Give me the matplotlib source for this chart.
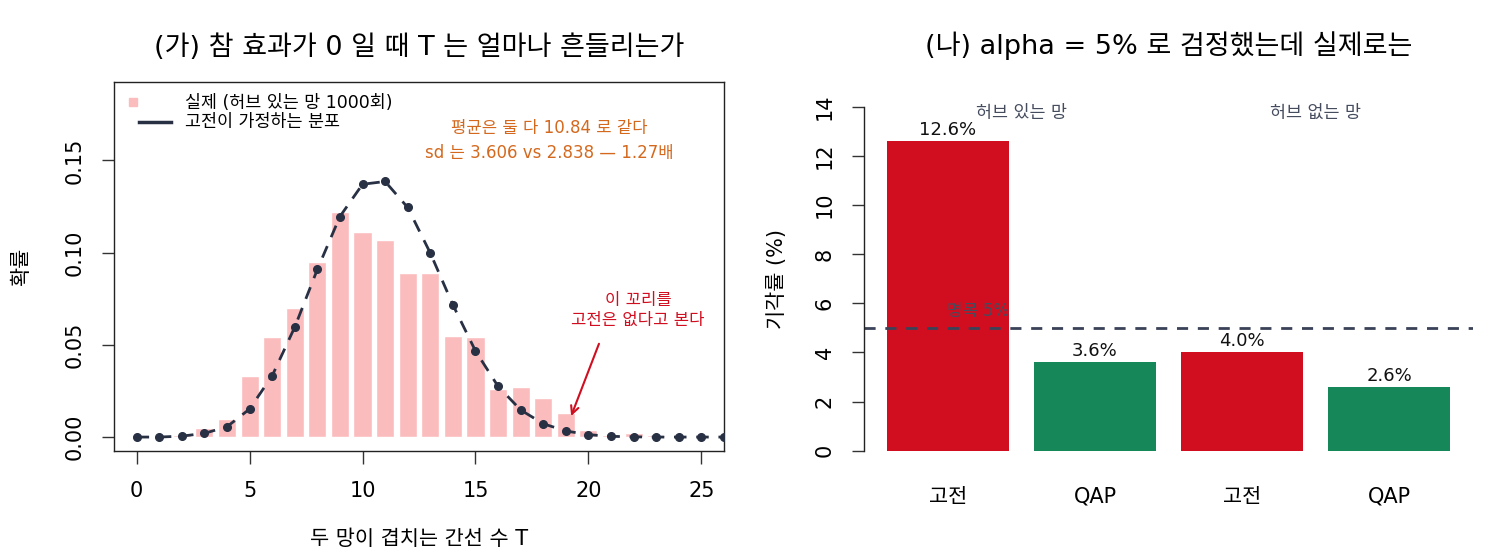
import matplotlib
matplotlib.use("Agg")
import matplotlib.pyplot as plt
from matplotlib.lines import Line2D
import numpy as np

plt.rcParams['font.family'] = ['DejaVu Sans', 'Noto Sans CJK KR']

# ---------------- data ----------------
t_values = list(range(0, 27))
observed_prob = [0.000, 0.000, 0.001, 0.005, 0.010, 0.033, 0.054, 0.070, 0.095, 0.122,
                 0.111, 0.107, 0.089, 0.089, 0.055, 0.054, 0.026, 0.027, 0.021, 0.013,
                 0.004, 0.001, 0.002, 0.001, 0.000, 0.000, 0.000]
classical_prob = [0.0000, 0.0000, 0.0005, 0.0020, 0.0056, 0.0152, 0.0332, 0.0596, 0.0909, 0.1196,
                  0.1371, 0.1386, 0.1245, 0.0998, 0.0717, 0.0467, 0.0275, 0.0147, 0.0072, 0.0033,
                  0.0013, 0.0004, 0.0001, 0.0000, 0.0000, 0.0000, 0.0000]
x_ticks = [0, 5, 10, 15, 20, 25]
y_ticks = [0.00, 0.05, 0.10, 0.15]
y_tick_labels = ["0.00", "0.05", "0.10", "0.15"]
legend_labels = ["실제 (허브 있는 망 1000회)", "고전이 가정하는 분포"]

bar_labels = ["고전", "QAP", "고전", "QAP"]
reject_rate = [12.6, 3.6, 4.0, 2.6]
group_labels = ["허브 있는 망", "허브 없는 망"]
nominal = 5
r_ticks = [0, 2, 4, 6, 8, 10, 12, 14]

PINK = "#FBBCBE"
NAVY = "#283044"
RED = "#D00E20"
GREEN = "#168758"
ORANGE = "#D4691E"
SLATE = "#454C5E"

fig = plt.figure(figsize=(15, 5.6), dpi=100)

# ---------------- left panel ----------------
ax = fig.add_axes([114/1500, (560-450.7)/560, 610/1500, 368.4/560])
ax.bar(t_values, observed_prob, width=0.8, color=PINK, edgecolor="white", linewidth=1.0, zorder=1)
ax.plot(t_values, classical_prob, color=NAVY, lw=2.0, linestyle=(0, (4.5, 3.5)), zorder=2)
ax.plot(t_values, classical_prob, 'o', color=NAVY, markersize=5.5, zorder=3)
ax.set_xlim(-1, 26)
ax.set_ylim(-0.0074, 0.1924)
ax.set_xticks(x_ticks)
ax.set_xticklabels([str(v) for v in x_ticks])
ax.set_yticks(y_ticks)
ax.set_yticklabels(y_tick_labels, rotation=90, va='center')
ax.tick_params(axis='both', direction='out', length=9, width=1.0, labelsize=15, color="#333333")
ax.tick_params(axis='y', pad=12)
ax.tick_params(axis='x', pad=13)
for s in ax.spines.values():
    s.set_linewidth(1.0)
    s.set_color("#222222")
ax.set_title("(가) 참 효과가 0 일 때 T 는 얼마나 흔들리는가", fontsize=19.5, pad=20)
ax.set_xlabel("두 망이 겹치는 간선 수 T", fontsize=15, labelpad=20)
ax.set_ylabel("확률", fontsize=15, labelpad=24)

# legend drawn like R's legend(): fill box at left, line after it
ax.plot([0.0311], [0.9465], marker='s', linestyle='None', color=PINK, markersize=6,
        transform=ax.transAxes, clip_on=False)
ax.plot([0.041, 0.0934], [0.8922, 0.8922], color=NAVY, lw=2.5, transform=ax.transAxes)
ax.text(0.1164, 0.9438, legend_labels[0], transform=ax.transAxes, fontsize=12.5, va='center', ha='left')
ax.text(0.1164, 0.8922, legend_labels[1], transform=ax.transAxes, fontsize=12.5, va='center', ha='left')

ax.text(18.25, 0.1674, "평균은 둘 다 10.84 로 같다", color=ORANGE, fontsize=12, ha='center', va='center')
ax.text(18.25, 0.1543, "sd 는 3.606 vs 2.838 — 1.27배", color=ORANGE, fontsize=12, ha='center', va='center')
ax.text(22.2, 0.0742, "이 꼬리를", color=RED, fontsize=12, ha='center', va='center')
ax.text(22.2, 0.0634, "고전은 없다고 본다", color=RED, fontsize=12, ha='center', va='center')
ax.annotate("", xy=(19.19, 0.0100), xytext=(20.51, 0.0520),
            arrowprops=dict(arrowstyle='->', color=RED, lw=1.5, mutation_scale=14))

# ---------------- right panel ----------------
bx = fig.add_axes([864/1500, (560-464.5)/560, 609/1500, 371.5/560])
centers = [0.7, 1.9, 3.1, 4.3]
colors = [RED, GREEN, RED, GREEN]
bx.bar(centers, reject_rate, width=1.0, color=colors, edgecolor='none', zorder=1)
bx.axhline(nominal, color="#3A4257", lw=2.0, linestyle=(0, (4, 3.5)), zorder=2)
for c, v in zip(centers, reject_rate):
    bx.text(c, v + 0.45, f"{v:.1f}%", ha='center', va='center', fontsize=13, color="#111111")
bx.text(1.2, 5.7, "명목 5%", ha='right', va='center', fontsize=12, color=SLATE, zorder=4)
bx.text((centers[0] + centers[1]) / 2, 13.74, group_labels[0], ha='center', va='center', fontsize=12.5, color=SLATE)
bx.text((centers[2] + centers[3]) / 2, 13.74, group_labels[1], ha='center', va='center', fontsize=12.5, color=SLATE)
bx.set_xlim(0.016, 4.984)
bx.set_ylim(-0.56, 14.56)
bx.set_xticks(centers)
bx.set_xticklabels(bar_labels)
bx.set_yticks(r_ticks)
bx.set_yticklabels([str(v) for v in r_ticks], rotation=90, va='center')
bx.tick_params(axis='x', length=0, labelsize=15, pad=16)
bx.tick_params(axis='y', direction='out', length=9, width=1.0, labelsize=15, pad=12, color="#333333")
for k in ['top', 'right', 'bottom']:
    bx.spines[k].set_visible(False)
bx.spines['left'].set_bounds(0, 14)
bx.spines['left'].set_linewidth(1.0)
bx.spines['left'].set_color("#222222")
bx.set_title("(나) alpha = 5% 로 검정했는데 실제로는", fontsize=19.5, pad=28)
bx.set_ylabel("기각률 (%)", fontsize=15, labelpad=20)

fig.savefig("out.png", dpi=100)
